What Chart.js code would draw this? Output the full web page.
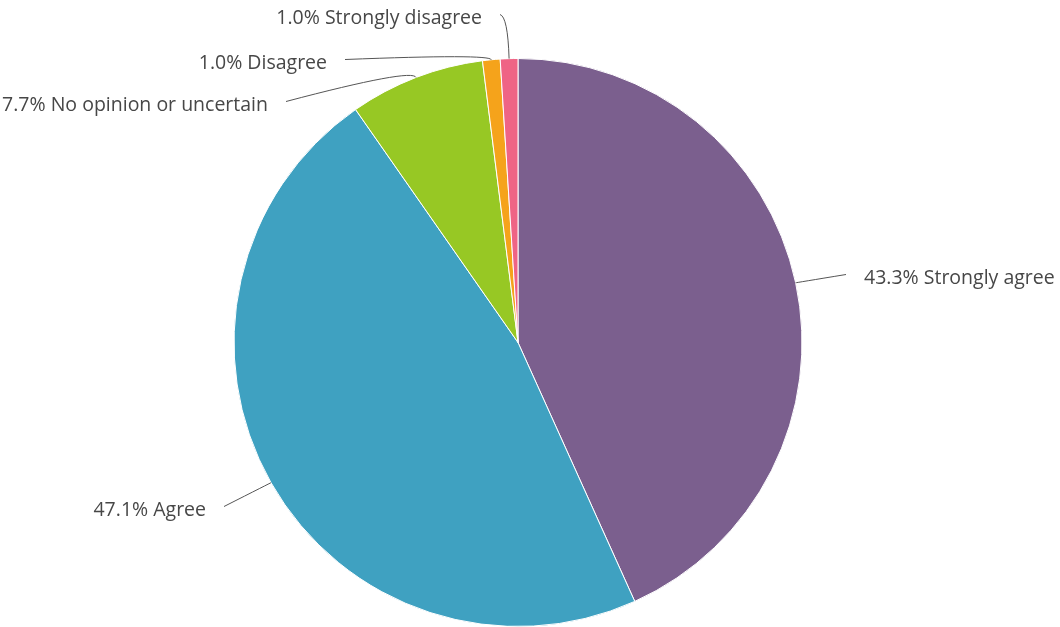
<!DOCTYPE html>
<html>
<head>
<meta charset="utf-8">
<script src="https://cdn.jsdelivr.net/npm/chart.js@4.4.0/dist/chart.umd.min.js"></script>
<style>
  html, body { margin: 0; padding: 0; background: #fff; }
  #wrap { width: 1060px; height: 627px; }
</style>
</head>
<body>
<div id="wrap"><canvas id="pieChart"></canvas></div>
<script>
// Daten
const categories = ['Strongly agree', 'Agree', 'No opinion or uncertain', 'Disagree', 'Strongly disagree'];
const percentages = [43.3, 47.1, 7.7, 1.0, 1.0];
const sliceColors = ['#7B5F8E', '#3FA1C1', '#97C824', '#F5A31B', '#EF6485'];

// Beschriftungs-Layout: Knick (radial) und Textende relativ zum Mittelpunkt
const labelLayout = [
  { elbow: 0,  end: [346, -65],  align: 'left' },
  { elbow: 0,  end: [-312, 167], align: 'right' },
  { elbow: 10, end: [-250, -238], align: 'right' },
  { elbow: 6,  end: [-191, -280], align: 'right' },
  { elbow: 42, end: [-36, -325], align: 'right' }
];

const leaderLabels = {
  id: 'leaderLabels',
  afterDatasetsDraw(chart) {
    const ctx = chart.ctx;
    const meta = chart.getDatasetMeta(0);
    ctx.save();
    ctx.font = '19.5px "Open Sans", sans-serif';
    ctx.fillStyle = '#474747';
    ctx.strokeStyle = '#555';
    ctx.lineWidth = 1;
    meta.data.forEach((arc, i) => {
      const { x, y, startAngle, endAngle, outerRadius } = arc.getProps(['x', 'y', 'startAngle', 'endAngle', 'outerRadius'], true);
      const mid = (startAngle + endAngle) / 2;
      const lay = labelLayout[i];
      const ax = x + Math.cos(mid) * outerRadius;
      const ay = y + Math.sin(mid) * outerRadius;
      const ex = x + Math.cos(mid) * (outerRadius + lay.elbow);
      const ey = y + Math.sin(mid) * (outerRadius + lay.elbow);
      const tx = x + lay.end[0];
      const ty = y + lay.end[1];
      const gap = lay.align === 'left' ? -18 : 18;
      ctx.beginPath();
      ctx.moveTo(ax, ay);
      ctx.quadraticCurveTo(ex, ey, tx + gap, ty - 3);
      ctx.stroke();
      ctx.textAlign = lay.align;
      ctx.textBaseline = 'middle';
      const text = percentages[i].toFixed(1) + '% ' + categories[i];
      ctx.fillText(text, tx, ty + 1);
    });
    ctx.restore();
  }
};

new Chart(document.getElementById('pieChart'), {
  type: 'pie',
  data: {
    labels: categories,
    datasets: [{
      data: percentages,
      backgroundColor: sliceColors,
      borderColor: '#ffffff',
      borderWidth: 1
    }]
  },
  options: {
    responsive: true,
    maintainAspectRatio: false,
    animation: false,
    layout: { padding: { top: 58, bottom: 0, left: 0, right: 24 } },
    plugins: {
      legend: { display: false },
      tooltip: { enabled: false }
    }
  },
  plugins: [leaderLabels]
});
</script>
</body>
</html>
